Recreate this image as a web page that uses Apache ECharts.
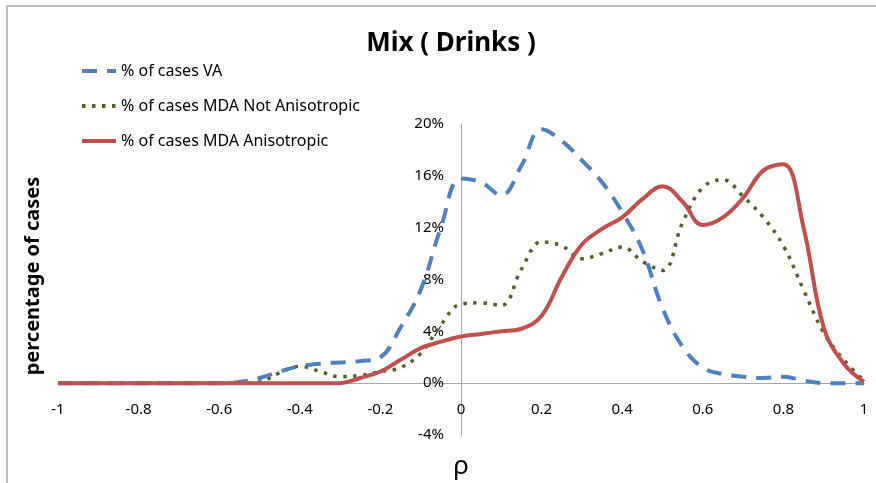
<!DOCTYPE html>
<html>
<head>
<meta charset="utf-8">
<script src="https://cdn.jsdelivr.net/npm/echarts@6/dist/echarts.min.js"></script>
<style>
html,body{margin:0;padding:0;background:#fff;}
#chart{width:876px;height:483px;}
</style>
</head>
<body>
<div id="chart"></div>
<script>
// rho values (x)
var rho = [-1,-0.95,-0.9,-0.85,-0.8,-0.75,-0.7,-0.65,-0.6,-0.55,-0.5,-0.45,-0.4,-0.35,-0.3,-0.25,-0.2,-0.15,-0.1,-0.05,0,0.05,0.1,0.15,0.2,0.25,0.3,0.35,0.4,0.45,0.5,0.55,0.6,0.65,0.7,0.75,0.8,0.85,0.9,0.95,1];
// % of cases VA
var va = [0,0,0,0,0,0,0,0,0,0.1,0.4,0.9,1.3,1.5,1.6,1.7,2.0,4.3,7.2,12.0,15.8,15.5,14.5,16.8,19.6,18.7,17.2,15.5,13.2,10.3,5.8,2.8,1.2,0.7,0.5,0.4,0.5,0.2,0,0,0];
// % of cases MDA Not Anisotropic
var mdaNot = [0,0,0,0,0,0,0,0,0,0,0.1,0.8,1.3,0.9,0.5,0.6,0.9,1.2,2.3,4.5,6.1,6.2,6.0,8.8,10.9,10.6,9.6,10.0,10.5,9.4,8.7,12.4,15.1,15.7,14.4,12.8,10.6,7.2,3.9,1.8,0.2];
// % of cases MDA Anisotropic
var mdaAniso = [0,0,0,0,0,0,0,0,0,0,0,0,0,0,0,0.4,0.9,1.8,2.7,3.2,3.6,3.8,4.0,4.2,5.2,8.2,10.7,11.9,12.8,14.2,15.2,14.0,12.2,12.8,14.3,16.4,16.9,12.0,4.3,1.5,0.1];
var seriesNames = ['% of cases VA','% of cases MDA Not Anisotropic','% of cases MDA Anisotropic'];
var yTicks = {min:-4, max:20, interval:4};
var xTicks = {min:-1, max:1, interval:0.2};

function pairs(ys){ return rho.map(function(x,i){ return [x, ys[i]]; }); }

var font = 'Noto Sans';
var W = 876, H = 483;
var gridLeft = 58, gridRight = 12, gridTop = 124, gridBottom = 48;
var plotW = W - gridLeft - gridRight;
var plotH = H - gridTop - gridBottom;
// offsets that place each axis at the other's zero
var yAxisOffset = -plotW * (0 - xTicks.min) / (xTicks.max - xTicks.min);
var xAxisOffset = -plotH * (0 - yTicks.min) / (yTicks.max - yTicks.min);

var chart = echarts.init(document.getElementById('chart'), null, {renderer:'canvas'});
chart.setOption({
  animation:false,
  backgroundColor:'#fff',
  textStyle:{fontFamily:font},
  title:{
    text:'Mix ( Drinks )',
    left:446, top:26, textAlign:'center',
    textStyle:{fontFamily:font, fontWeight:'bold', fontSize:26, color:'#000'}
  },
  legend:{
    orient:'vertical', left:80, top:63, padding:0,
    itemWidth:34, itemHeight:14, itemGap:19,
    itemStyle:{opacity:0},
    lineStyle:{width:4},
    textStyle:{fontFamily:font, fontSize:16, color:'#000'},
    data:seriesNames
  },
  grid:{left:gridLeft, right:gridRight, top:gridTop, bottom:gridBottom, containLabel:false, outerBoundsMode:'none'},
  xAxis:{
    type:'value', min:xTicks.min, max:xTicks.max, interval:xTicks.interval,
    position:'bottom', offset:xAxisOffset,
    name:'ρ', nameLocation:'middle', nameGap:70,
    nameTextStyle:{fontFamily:font, fontSize:26, color:'#000'},
    axisLine:{show:true, onZero:false, lineStyle:{color:'#a6a6a6', width:1}},
    axisTick:{show:false},
    splitLine:{show:false},
    axisLabel:{fontFamily:font, fontSize:15, color:'#000', margin:19,
      formatter:function(v){ return String(Math.round(v*10)/10); }}
  },
  yAxis:{
    type:'value', min:yTicks.min, max:yTicks.max, interval:yTicks.interval,
    position:'left', offset:yAxisOffset,
    axisLine:{show:true, onZero:false, lineStyle:{color:'#a6a6a6', width:1}},
    axisTick:{show:false},
    splitLine:{show:false},
    axisLabel:{fontFamily:font, fontSize:15, color:'#000', margin:17,
      formatter:function(v){ return v + '%'; }}
  },
  graphic:[
    {type:'rect', shape:{x:7, y:6, width:900, height:500}, style:{fill:'none', stroke:'#bfbfbf', lineWidth:2}, silent:true},
    {type:'text', x:33, y:276, rotation:Math.PI/2, style:{text:'percentage of cases', fontFamily:font, fontWeight:'bold', fontSize:20, fill:'#000', align:'center', verticalAlign:'middle'}}
  ],
  series:[
    {name:seriesNames[0], type:'line', data:pairs(va), smooth:0.4, showSymbol:false, symbol:'none',
      lineStyle:{color:'#4F81BD', width:4, type:[15,10]}, itemStyle:{color:'#4F81BD'}, z:3},
    {name:seriesNames[1], type:'line', data:pairs(mdaNot), smooth:0.4, showSymbol:false, symbol:'none',
      lineStyle:{color:'#4F6228', width:3.5, type:[3.5,6.5]}, itemStyle:{color:'#4F6228'}, z:2},
    {name:seriesNames[2], type:'line', data:pairs(mdaAniso), smooth:0.4, showSymbol:false, symbol:'none',
      lineStyle:{color:'#C0504D', width:4}, itemStyle:{color:'#C0504D'}, z:4}
  ]
});
</script>
</body>
</html>
